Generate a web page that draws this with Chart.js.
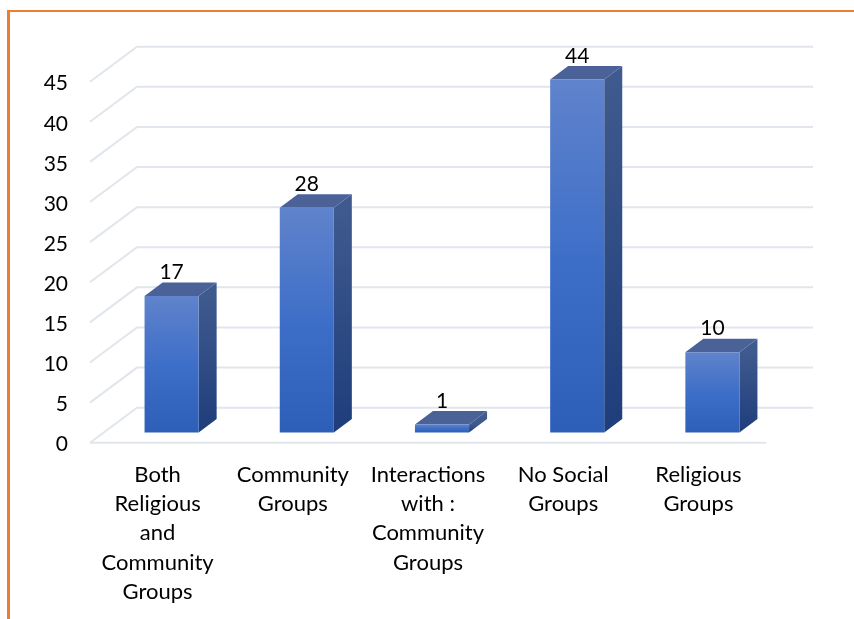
<!DOCTYPE html>
<html>
<head>
<meta charset="utf-8">
<style>
    html, body { margin: 0; padding: 0; background: #fff; }
    #frame {
        position: absolute; left: 7px; top: 10px; width: 847px; height: 609px;
        box-sizing: border-box;
        border-left: 3px solid #ED7D31; border-top: 2px solid #ED7D31;
    }
    #chart { position: absolute; left: 0; top: 0; }
</style>
</head>
<body>
<div id="frame"></div>
<canvas id="chart" width="854" height="619"></canvas>
<script src="https://cdn.jsdelivr.net/npm/chart.js@4"></script>
<script>
const categories = [
    ['Both', 'Religious', 'and', 'Community', 'Groups'],
    ['Community', 'Groups'],
    ['Interactions', 'with :', 'Community', 'Groups'],
    ['No Social', 'Groups'],
    ['Religious', 'Groups'],
];
const groupValues = [17, 28, 1, 44, 10];
const yMin = 0;
const yMax = 45;
const yStep = 5;

const fontFamily = 'Lato, sans-serif';
const gridColor = '#E1E5EC';

// fake 3D: back wall offset from the front of the floor, bars sit halfway in
const wallDx = 47, wallDy = -35;
const barShiftX = 14, barShiftY = -10.3;
const depthX = 18, depthY = -13.5;

function vGradient(ctx, top, bottom, stops) {
    const g = ctx.createLinearGradient(0, top, 0, bottom);
    stops.forEach(s => g.addColorStop(s[0], s[1]));
    return g;
}

const walls = {
    id: 'walls',
    beforeDatasetsDraw(chart) {
        const { ctx, scales: { y }, chartArea: a } = chart;
        ctx.save();
        ctx.strokeStyle = gridColor;
        ctx.lineWidth = 2;
        y.ticks.forEach(t => {
            const py = y.getPixelForValue(t.value);
            ctx.beginPath();
            ctx.moveTo(a.left, py);
            ctx.lineTo(a.left + wallDx, py + wallDy);
            ctx.lineTo(a.right + wallDx, py + wallDy);
            ctx.stroke();
        });
        const floor = y.getPixelForValue(yMin);
        ctx.beginPath();
        ctx.moveTo(a.left, floor);
        ctx.lineTo(a.right, floor);
        ctx.stroke();
        ctx.restore();

        // everything the bars draw is pushed back onto the middle plane
        ctx.save();
        ctx.translate(barShiftX, barShiftY);
        chart.getDatasetMeta(0).data.forEach(bar => {
            const l = bar.x - bar.width / 2, r = bar.x + bar.width / 2;
            const side = vGradient(ctx, bar.y, bar.base, [[0, '#3F5A8E'], [1, '#1E3D7B']]);
            ctx.fillStyle = side;
            ctx.beginPath();
            ctx.moveTo(r, bar.y);
            ctx.lineTo(r + depthX, bar.y + depthY);
            ctx.lineTo(r + depthX, bar.base + depthY);
            ctx.lineTo(r, bar.base);
            ctx.closePath();
            ctx.fill();

            ctx.fillStyle = '#4A6298';
            ctx.beginPath();
            ctx.moveTo(l, bar.y);
            ctx.lineTo(l + depthX, bar.y + depthY);
            ctx.lineTo(r + depthX, bar.y + depthY);
            ctx.lineTo(r, bar.y);
            ctx.closePath();
            ctx.fill();
        });
    },
    afterDatasetsDraw(chart) {
        const { ctx } = chart;
        ctx.restore();

        ctx.save();
        ctx.fillStyle = '#000';
        ctx.font = '21px ' + fontFamily;
        ctx.textAlign = 'center';
        ctx.textBaseline = 'middle';
        chart.getDatasetMeta(0).data.forEach((bar, i) => {
            ctx.fillText(groupValues[i], bar.x + barShiftX, bar.y + barShiftY + depthY - 10);
        });
        ctx.restore();
    },
};

new Chart(document.getElementById('chart'), {
    type: 'bar',
    data: {
        labels: categories,
        datasets: [{
            data: groupValues,
            backgroundColor(c) {
                const { ctx, scales: { y } } = c.chart;
                const top = y ? y.getPixelForValue(c.raw) : NaN;
                const bottom = y ? y.getPixelForValue(yMin) : NaN;
                if (!Number.isFinite(top) || !Number.isFinite(bottom)) return '#3E6FC8';
                return vGradient(ctx, top, bottom, [
                    [0, '#6083CC'], [0.5, '#3E6FC8'], [1, '#2E5FB8'],
                ]);
            },
            barPercentage: 0.4,
            categoryPercentage: 1,
            borderWidth: 0,
            clip: false,
        }],
    },
    options: {
        responsive: false,
        animation: false,
        layout: { padding: { top: 81.7, right: 88, left: 0, bottom: 0 } },
        plugins: { legend: { display: false }, tooltip: { enabled: false } },
        scales: {
            x: {
                afterFit(scale) { scale.height = 176.3; },
                grid: { display: false },
                border: { display: false },
                ticks: {
                    color: '#000',
                    padding: 9,
                    maxRotation: 0,
                    autoSkip: false,
                    font: { family: fontFamily, size: 22, lineHeight: 1.34 },
                },
            },
            y: {
                min: yMin,
                max: yMax,
                afterFit(scale) { scale.width = 90; },
                grid: { display: false },
                border: { display: false },
                ticks: {
                    stepSize: yStep,
                    color: '#000',
                    padding: 14,
                    labelOffset: 2,
                    font: { family: fontFamily, size: 21 },
                },
            },
        },
    },
    plugins: [walls],
});
</script>
</body>
</html>
